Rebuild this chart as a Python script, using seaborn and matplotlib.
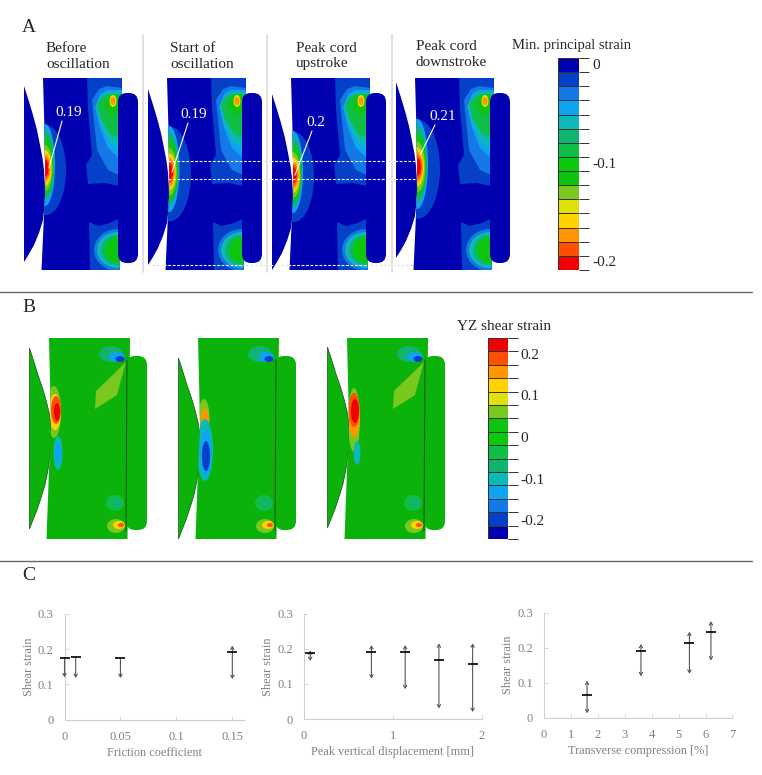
import numpy as np
import pandas as pd
import matplotlib
matplotlib.use('Agg')
import matplotlib.pyplot as plt
from matplotlib.colors import ListedColormap
from matplotlib.patches import Ellipse, FancyBboxPatch, Polygon
import seaborn as sns

# Panel C values
friction_x = [0, 0.01, 0.05, 0.15]
friction_mean = [0.175, 0.177, 0.175, 0.193]
friction_up = [0.175, 0.177, 0.175, 0.21]
friction_low = [0.12, 0.118, 0.118, 0.115]

disp_x = [0.07, 0.76, 1.14, 1.52, 1.9]
disp_mean = [0.187, 0.19, 0.19, 0.168, 0.157]
disp_up = [0.195, 0.21, 0.21, 0.215, 0.215]
disp_low = [0.165, 0.115, 0.085, 0.03, 0.02]

comp_x = [1.6, 3.6, 5.4, 6.2]
comp_mean = [0.065, 0.19, 0.213, 0.243]
comp_up = [0.105, 0.21, 0.245, 0.275]
comp_low = [0.012, 0.118, 0.125, 0.163]

# Contour palette, top to bottom of the A colour bar
levels = ['#0000b0', '#0540c8', '#1478e6', '#0ea5f0', '#0cb8b8', '#10b46e', '#0fbe46', '#0ac80a',
          '#0ec40e', '#78c81e', '#e0e00a', '#ffd200', '#ff9600', '#ff5000', '#f00000']
green = '#0ab20a'

# Outlines, in pixels of the first panel
tissue_a = [(43, 78), (44.5, 130), (45.5, 190), (44, 215), (41.5, 270), (119.5, 270), (122, 78)]
lens_a = [(24, 86), (28.5, 100), (33, 115), (37, 130), (40, 145), (42.5, 158), (44, 170), (44.8, 183), (45, 195),
          (44.3, 208), (43, 220), (39, 233), (34, 245), (29, 254), (24, 262)]
tissue_b = [(49, 338), (50, 380), (51, 425), (49, 470), (46.5, 539), (127.5, 539), (130, 338)]
lens_b = [(29.5, 348), (34, 362), (38, 375), (42.5, 388), (46, 400), (49, 412), (51, 425), (51, 440), (50, 455),
          (48, 470), (45, 485), (41, 498), (37, 510), (33, 520), (29.5, 529)]

# Principal strain bands (level, outline) on the right of the tissue
teardrop_bands = [
    (1, [(87, 78), (122, 78), (119, 186), (105, 183), (88, 184), (86, 165), (92, 155), (88, 110)]),
    (2, [(92, 100), (99, 89), (107, 86), (122, 88), (119, 175), (108, 170), (97, 150)]),
    (3, [(95, 107), (100, 94), (107, 90), (122, 90), (119, 158), (108, 148), (100, 128)]),
    (4, [(96, 106), (101, 97), (107, 92), (122, 92), (119, 150), (108, 140), (100, 122)]),
    (6, [(97, 104), (102, 97), (108, 94), (122, 94), (119, 138), (110, 134), (101, 119)]),
    (8, [(104, 105), (108, 98), (115, 95), (120, 95), (118, 112), (110, 116)]),
]
lower_rect = [(89, 222), (98, 226), (110, 223), (120, 218), (120, 270), (90, 270)]
# cx, cy, rx, ry, level for half discs at the foot of the tissue
foot_spots = [(118, 250, 24, 21, 2), (118, 250, 21, 18, 4), (118, 250, 17, 15, 5),
              (118, 250, 13, 13, 7), (118, 250, 9, 10, 8)]
yellow_spot = [(113, 101, 3.5, 6, 10), (113, 101, 2.5, 4, 12)]

# Hot spot on the lens contact, cx, cy offset, rx, ry, level
hot_stack = [(46, 2, 20, 45, 1), (45, -3, 10, 41, 3), (45, -3, 9, 35, 5), (45, -2, 8.5, 29, 7),
             (45, 0, 7.5, 23, 9), (45, 0, 6.5, 18, 11), (45, 0, 5.5, 14, 12), (45, 0, 4.5, 11, 13),
             (45, 0, 3.5, 8, 14)]
hot_y = [168, 172, 175, 167]
hot_scale = [1.0, 1.05, 1.0, 1.1]
lens_shift_a = [0, 3, 8, -4]
panel_dx_a = [0, 124, 248, 372]
peak_text = ['0.19', '0.19', '0.2', '0.21']
peak_label_x = [69, 194, 316, 443]
peak_label_y = [112, 114, 122, 117]
peak_line = [((62, 121), (49, 168)), ((188, 123), (172, 172)), ((312, 131), (295, 175)), ((435, 125), (420, 155))]
state_labels = ['Before\noscillation', 'Start of\noscillation', 'Peak cord\nupstroke', 'Peak cord\ndownstroke']
state_x = [46, 170, 296, 416]
state_y = [57, 57, 56, 55]

# Shear strain spots in panel B, cx, cy, rx, ry, level
shear_common = [(111, 354, 12, 8, 5), (117, 357, 8, 5, 3), (120, 359, 4.5, 3, 1),
                (115, 503, 9, 8, 6), (117, 503, 5, 5, 5),
                (116, 526, 9, 7, 9), (119, 525, 6, 4, 11), (121, 525, 3, 2, 13)]
shear_hot = [
    [(54, 412, 7, 26, 9), (55, 412, 6, 18, 11), (56, 410, 5, 14, 13), (57, 412, 3, 9, 14),
     (58, 453, 4.5, 17, 4), (58, 453, 3.5, 11, 3)],
    [(55, 418, 5.5, 19, 9), (56, 420, 4, 12, 12), (56, 450, 8, 31, 4), (57, 453, 6, 23, 3), (57, 456, 4, 15, 1)],
    [(56, 420, 6, 32, 9), (56, 415, 6, 22, 12), (56, 410, 5.5, 17, 13), (57, 411, 4, 12, 14), (59, 453, 3.5, 12, 4)],
]
shear_wedge = [(95, 409), (96, 391), (126, 362), (117, 395), (103, 404)]
panel_dx_b = [0, 149, 298]
lens_shift_b = [0, 10, -1]

# Colour bars
shear_ticks = [0.2, 0.1, 0, -0.1, -0.2]
shear_tick_text = ['0.2', '0.1', '0', '-0.1', '-0.2']
min_ticks = [0, -0.1, -0.2]
min_tick_text = ['0', '-0.1', '-0.2']

sns.set_style('white')
plt.rcParams['font.family'] = ['Liberation Serif', 'DejaVu Serif']

W, H = 762, 775
fig = plt.figure(figsize=(W / 100, H / 100), dpi=100)
canvas = fig.add_axes([0, 0, 1, 1])
canvas.set_xlim(0, W)
canvas.set_ylim(H, 0)
canvas.axis('off')


def ax_px(left, top, right, bottom):
    return fig.add_axes([left / W, 1 - bottom / H, (right - left) / W, (bottom - top) / H])


def shift(points, dx=0, dy=0):
    return [(x + dx, y + dy) for x, y in points]


def draw_stack(stack, dx, clip, hy=0, scale=1.0):
    for cx, cy, rx, ry, lev in stack:
        e = Ellipse((cx + dx, cy + hy), 2 * rx * scale, 2 * ry * scale, fc=levels[lev], ec='none', zorder=3)
        canvas.add_patch(e)
        e.set_clip_path(clip)


# Panel A
for i, dx in enumerate(panel_dx_a):
    lens = Polygon(shift(lens_a, dx, lens_shift_a[i]), closed=True, fc=levels[0], ec='none', zorder=2)
    canvas.add_patch(lens)
    tissue = Polygon(shift(tissue_a, dx), closed=True, fc=levels[0], ec='none', zorder=2)
    canvas.add_patch(tissue)
    for lev, pts in teardrop_bands:
        p = Polygon(shift(pts, dx), closed=True, fc=levels[lev], ec='none', zorder=3)
        canvas.add_patch(p)
        p.set_clip_path(tissue)
    p = Polygon(shift(lower_rect, dx), closed=True, fc=levels[1], ec='none', zorder=3)
    canvas.add_patch(p)
    p.set_clip_path(tissue)
    draw_stack(foot_spots, dx, tissue)
    draw_stack(yellow_spot, dx, tissue)
    draw_stack(hot_stack, dx, tissue, hy=hot_y[i], scale=hot_scale[i])
    canvas.add_patch(FancyBboxPatch((118 + dx + 9, 92 + 10), 2, 172 - 20, boxstyle='round,pad=9,rounding_size=9',
                                    fc=levels[0], ec='none', zorder=4))
    canvas.text(peak_label_x[i], peak_label_y[i], peak_text[i], color='white', fontsize=11, ha='center', va='center', zorder=6)
    (x0, y0), (x1, y1) = peak_line[i]
    canvas.plot([x0, x1], [y0, y1], color='white', lw=0.8, zorder=6)
    canvas.text(state_x[i], state_y[i], state_labels[i], fontsize=11, ha='left', va='center', linespacing=1.3, zorder=6)

for x in [143, 267, 392]:
    canvas.plot([x, x], [35, 272], color='#dcdcdc', lw=1.3, zorder=1)
for y, x0, x1 in [(161, 168, 415), (179, 168, 415), (265, 150, 412)]:
    canvas.plot([x0, x1], [y, y], color='#c8c8c8', lw=0.6, zorder=1)
    canvas.plot([x0, x1], [y, y], color='white', lw=0.8, ls=(0, (2.5, 1.5)), zorder=5)

# Panel B
for i, dx in enumerate(panel_dx_b):
    lens = Polygon(shift(lens_b, dx, lens_shift_b[i]), closed=True, fc=green, ec='#1c4a1c', lw=0.5, zorder=2)
    canvas.add_patch(lens)
    tissue = Polygon(shift(tissue_b, dx), closed=True, fc=green, ec='none', zorder=2)
    canvas.add_patch(tissue)
    wedge = Polygon(shift(shear_wedge, dx), closed=True, fc=levels[9], ec='none', zorder=3)
    if i != 1:
        canvas.add_patch(wedge)
    draw_stack(shear_common, dx, tissue)
    draw_stack(shear_hot[i], dx, tissue)
    canvas.add_patch(FancyBboxPatch((126 + dx + 9, 355 + 10), 3, 176 - 20, boxstyle='round,pad=9,rounding_size=9',
                                    fc=green, ec='none', zorder=4))
    canvas.plot([127 + dx, 126 + dx], [360, 531], color='#1c4a1c', lw=0.7, zorder=5)

# Section rules and letters
for y in [292, 561]:
    canvas.plot([0, 752], [y, y], color='#666666', lw=1.0)
for letter, y in zip('ABC', [28, 307, 576]):
    canvas.text(22, y, letter, fontsize=14, ha='left', va='center')

# Colour bars
cmap = ListedColormap(levels)
cells = np.arange(15).reshape(-1, 1)

bar_a = ax_px(558, 58, 579, 270)
sns.heatmap(cells, cmap=cmap, cbar=False, linewidths=0.5, linecolor='#333333', xticklabels=False, yticklabels=False, ax=bar_a)
bar_a.set_yticks(np.arange(16))
bar_a.yaxis.tick_right()
bar_a.tick_params(axis='y', length=7, width=0.7, color='#333333', right=True, labelright=False)
for v, s in zip(min_ticks, min_tick_text):
    bar_a.text(1.62, 0.5 - v * 70, s, fontsize=11, ha='left', va='center')
canvas.text(572, 46, 'Min. principal strain', fontsize=10.5, ha='center', va='center')

bar_b = ax_px(488, 338, 508, 539)
sns.heatmap(cells[::-1], cmap=cmap, cbar=False, linewidths=0.5, linecolor='#333333', xticklabels=False, yticklabels=False, ax=bar_b)
bar_b.set_yticks(np.arange(16))
bar_b.yaxis.tick_right()
bar_b.tick_params(axis='y', length=7, width=0.7, color='#333333', right=True, labelright=False)
for v, s in zip(shear_ticks, shear_tick_text):
    bar_b.text(1.6, 7.5 - v * 31, s, fontsize=11, ha='left', va='center')
canvas.text(504, 326, 'YZ shear strain', fontsize=11, ha='center', va='center')


# Panel C
def strain_panel(box, x, mean, up, low, xmax, xticks, xticklabels, xlabel):
    ax = ax_px(*box)
    df = pd.DataFrame({'x': x, 'mean': mean, 'up': up, 'low': low})
    sns.scatterplot(data=df, x='x', y='mean', marker='_', s=50, color='black', linewidth=1.2, ax=ax, zorder=4, clip_on=False)
    for row in df.itertuples():
        ax.annotate('', xy=(row.x, row.low), xytext=(row.x, row.mean), annotation_clip=False,
                    arrowprops=dict(arrowstyle='->,head_width=0.12,head_length=0.2', color='#555555', lw=0.8, shrinkA=0, shrinkB=0))
        if row.up > row.mean:
            ax.annotate('', xy=(row.x, row.up), xytext=(row.x, row.mean), annotation_clip=False,
                        arrowprops=dict(arrowstyle='->,head_width=0.12,head_length=0.2', color='#555555', lw=0.8, shrinkA=0, shrinkB=0))
    ax.set_xlim(0, xmax)
    ax.set_ylim(0, 0.3)
    ax.set_xticks(xticks)
    ax.set_xticklabels(xticklabels)
    ax.set_yticks([0, 0.1, 0.2, 0.3])
    ax.set_yticklabels(['0', '0.1', '0.2', '0.3'])
    ax.tick_params(axis='both', direction='in', length=3, width=0.6, color='#cfcfcf', labelsize=9, labelcolor='#808080', pad=8,
                   bottom=True, left=True)
    ax.set_xlabel(xlabel, fontsize=8.8, color='#808080', labelpad=3)
    ax.set_ylabel('Shear strain', fontsize=8.8, color='#808080', labelpad=2)
    sns.despine(ax=ax)
    for side in ['left', 'bottom']:
        ax.spines[side].set_color('#cfcfcf')
        ax.spines[side].set_linewidth(0.8)
    ax.patch.set_alpha(0)


strain_panel((64.5, 614, 243.5, 719.5), friction_x, friction_mean, friction_up, friction_low, 0.16,
             [0, 0.05, 0.1, 0.15], ['0', '0.05', '0.1', '0.15'], 'Friction coefficient')
strain_panel((304, 613.5, 481.5, 719), disp_x, disp_mean, disp_up, disp_low, 2,
             [0, 1, 2], ['0', '1', '2'], 'Peak vertical displacement [mm]')
strain_panel((544, 612.5, 732.5, 717.5), comp_x, comp_mean, comp_up, comp_low, 7,
             list(range(8)), [str(t) for t in range(8)], 'Transverse compression [%]')

fig.savefig('out.png', dpi=100)
